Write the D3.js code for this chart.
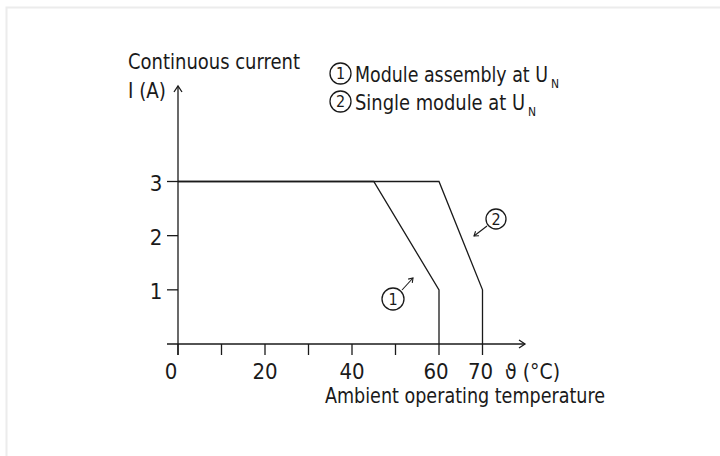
<!DOCTYPE html>
<head>
  <meta charset="utf-8">
  <script src="https://d3js.org/d3.v7.min.js"></script>
  <style>
    body { margin: 0; background: #fff; }
    text { font-family: "DejaVu Sans", sans-serif; font-stretch: condensed; fill: #1a1a1a; }
    .line { fill: none; stroke: #1a1a1a; stroke-width: 1.3px; }
    .axis { stroke: #1a1a1a; stroke-width: 1.3px; fill: none; }
  </style>
</head>
<body>
<script>
  // data
  var xTicks = [0, 10, 20, 30, 40, 50, 60, 70];
  var xLabels = [0, 20, 40, 60, 70];
  var yTicks = [1, 2, 3];
  var assemblyTemp = [0, 45, 60, 60];
  var assemblyCurrent = [3, 3, 1, 0];
  var singleTemp = [0, 60, 70, 70];
  var singleCurrent = [3, 3, 1, 0];

  var svg = d3.select("body").append("svg")
    .attr("width", 720)
    .attr("height", 456);

  // faint frame
  svg.append("rect")
    .attr("x", 6.5).attr("y", 7.5)
    .attr("width", 760).attr("height", 500)
    .attr("fill", "none").attr("stroke", "#ececec").attr("stroke-width", 2);

  var x = d3.scaleLinear().domain([0, 70]).range([178, 482.5]);
  var y = d3.scaleLinear().domain([0, 3]).range([344, 181.5]);

  // axes lines with arrows
  svg.append("line").attr("class", "axis")
    .attr("x1", 167).attr("x2", 525).attr("y1", y(0)).attr("y2", y(0));
  svg.append("path").attr("class", "axis")
    .attr("d", "M519,340 L525," + y(0) + " L519,348");
  svg.append("line").attr("class", "axis")
    .attr("x1", x(0)).attr("x2", x(0)).attr("y1", 355).attr("y2", 86);
  svg.append("path").attr("class", "axis")
    .attr("d", "M174,92 L" + x(0) + ",86 L182,92");

  svg.selectAll(".xtick").data(xTicks).enter().append("line")
    .attr("class", "axis xtick")
    .attr("x1", function(d) { return x(d); }).attr("x2", function(d) { return x(d); })
    .attr("y1", y(0)).attr("y2", 355);

  svg.selectAll(".ytick").data(yTicks).enter().append("line")
    .attr("class", "axis ytick")
    .attr("x1", 167).attr("x2", x(0))
    .attr("y1", function(d) { return y(d); }).attr("y2", function(d) { return y(d); });

  svg.selectAll(".xlabel").data(xLabels).enter().append("text")
    .attr("class", "xlabel")
    .attr("x", function(d) { return d === 0 ? x(d) - 7 : (d === 60 ? x(d) - 3 : (d === 70 ? x(d) - 2 : x(d))); })
    .attr("y", 379)
    .attr("text-anchor", "middle")
    .style("font-size", "22px")
    .text(function(d) { return d; });

  svg.selectAll(".ylabel").data(yTicks).enter().append("text")
    .attr("class", "ylabel")
    .attr("x", 156)
    .attr("y", function(d) { return y(d) + 9; })
    .attr("text-anchor", "middle")
    .style("font-size", "22px")
    .text(function(d) { return d; });

  svg.append("text").attr("x", 505).attr("y", 379).style("font-size", "22px")
    .attr("textLength", 55).attr("lengthAdjust", "spacingAndGlyphs").text("ϑ (°C)");
  svg.append("text").attr("x", 325).attr("y", 403).style("font-size", "22px")
    .attr("textLength", 280).attr("lengthAdjust", "spacingAndGlyphs").text("Ambient operating temperature");
  svg.append("text").attr("x", 128).attr("y", 69).style("font-size", "22px")
    .attr("textLength", 172).attr("lengthAdjust", "spacingAndGlyphs").text("Continuous current");
  svg.append("text").attr("x", 128).attr("y", 98).style("font-size", "22px")
    .attr("textLength", 38).attr("lengthAdjust", "spacingAndGlyphs").text("I (A)");

  function circled(cx, cy, r, label) {
    svg.append("circle").attr("cx", cx).attr("cy", cy).attr("r", r)
      .attr("fill", "none").attr("stroke", "#1a1a1a").attr("stroke-width", 1.3);
    svg.append("text").attr("x", cx).attr("y", cy + 5.5).attr("text-anchor", "middle")
      .style("font-size", "16px").text(label);
  }

  // legend
  var legendNames = ["Module assembly at U", "Single module at U"];
  var legendWidths = [193, 170];
  legendNames.forEach(function(name, i) {
    var cy = 73.5 + i * 28;
    circled(340.5, cy, 10.5, i + 1);
    var t = svg.append("text").attr("x", 355).attr("y", cy + 8).style("font-size", "22px");
    t.append("tspan")
      .attr("textLength", legendWidths[i]).attr("lengthAdjust", "spacingAndGlyphs").text(name);
    t.append("tspan").attr("dx", 3).attr("dy", 6)
      .style("font-size", "12px").text("N");
  });

  var line = d3.line()
    .x(function(d) { return x(d[0]); })
    .y(function(d) { return y(d[1]); });

  svg.append("path").attr("class", "line")
    .attr("d", line(d3.zip(assemblyTemp, assemblyCurrent)));
  svg.append("path").attr("class", "line")
    .attr("d", line(d3.zip(singleTemp, singleCurrent)));

  // curve annotations
  function arrow(x1, y1, x2, y2) {
    svg.append("line").attr("class", "axis").style("stroke-width", "1.1px")
      .attr("x1", x1).attr("y1", y1).attr("x2", x2).attr("y2", y2);
    var a = Math.atan2(y2 - y1, x2 - x1), s = 5;
    svg.append("path").attr("class", "axis").style("stroke-width", "1.1px")
      .attr("d", "M" + (x2 - s * Math.cos(a - 0.6)) + "," + (y2 - s * Math.sin(a - 0.6)) +
        " L" + x2 + "," + y2 +
        " L" + (x2 - s * Math.cos(a + 0.6)) + "," + (y2 - s * Math.sin(a + 0.6)));
  }
  circled(393, 299, 11, 1);
  arrow(402, 290, 413, 278);
  circled(496, 219, 10, 2);
  arrow(487, 226, 474, 236);
</script>
</body>
